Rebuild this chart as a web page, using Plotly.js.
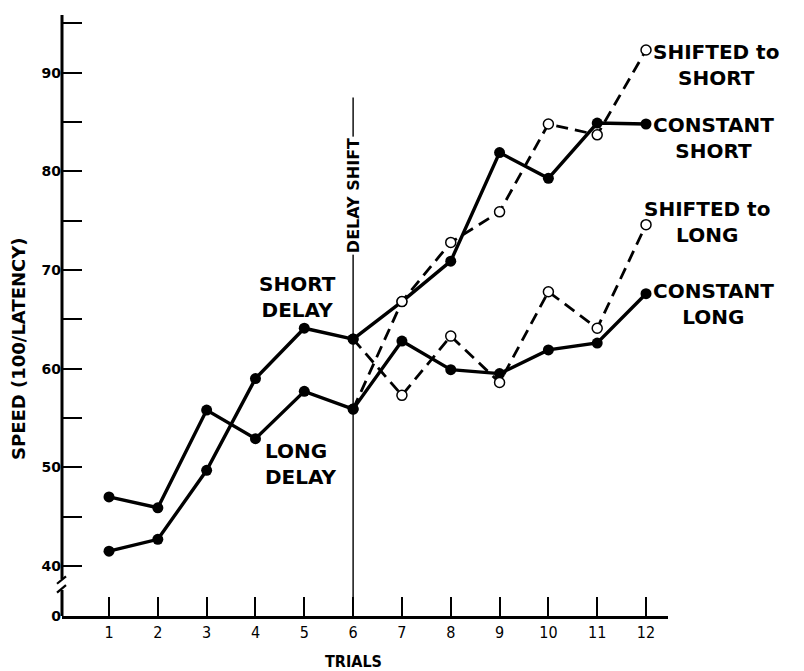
<!DOCTYPE html>
<html>
<head>
<meta charset="utf-8">
<script src="https://cdn.plot.ly/plotly-3.0.1.min.js"></script>
<style>
html,body{margin:0;padding:0;background:#fff;}
#chart{width:804px;height:671px;}
</style>
</head>
<body>
<div id="chart"></div>
<script>
// ---- data ----
const trials = [1,2,3,4,5,6,7,8,9,10,11,12];
const preTrials = [1,2,3,4,5,6];
const postTrials = [7,8,9,10,11,12];
const shiftTrial = 6;

const shortDelay = [41.5, 42.7, 49.7, 59.0, 64.1, 63.0];
const longDelay  = [47.0, 45.9, 55.8, 52.9, 57.7, 55.9];

const constantShort  = [66.8, 70.9, 81.9, 79.3, 84.9, 84.8];
const shiftedToShort = [66.8, 72.8, 75.9, 84.8, 83.7, 92.3];
const constantLong   = [62.8, 59.9, 59.5, 61.9, 62.6, 67.6];
const shiftedToLong  = [57.3, 63.3, 58.6, 67.8, 64.1, 74.6];

const yMajorTicks = [40,50,60,70,80,90];
const yMinorTicks = [45,55,65,75,85,95];
const xTickLabels = ['1','2','3','4','5','6','7','8','9','10','11','12'];

// ---- axis geometry ----
const Y_ZERO_POS = 34.93;   // where the broken axis shows "0"
const yRange = [Y_ZERO_POS, 95.85];
const xRange = [0.037, 12.45];

const lastShort = shortDelay[shortDelay.length-1];
const lastLong  = longDelay[longDelay.length-1];
const postX = [shiftTrial].concat(postTrials);

const solidLine = {color:'#000', width:3.4};
const dashLine = {color:'#000', width:2.8, dash:'12px,7px'};
const filled = {color:'#000', size:11};
function openMarker(n){
  const s = [0]; for(let i=0;i<n;i++) s.push(10);
  return {color:'#ffffff', opacity:1, size:s, line:{color:'#000', width:1.5}};
}

const traces = [
  {x:preTrials, y:longDelay, mode:'lines+markers', line:solidLine, marker:filled, name:'Long delay'},
  {x:preTrials, y:shortDelay, mode:'lines+markers', line:solidLine, marker:filled, name:'Short delay'},
  {x:postX, y:[lastShort].concat(constantShort), mode:'lines+markers', line:solidLine, marker:filled, name:'Constant short'},
  {x:postX, y:[lastLong].concat(constantLong), mode:'lines+markers', line:solidLine, marker:filled, name:'Constant long'},
  {x:postX, y:[lastLong].concat(shiftedToShort), mode:'lines+markers', line:dashLine, marker:openMarker(postTrials.length), name:'Shifted to short'},
  {x:postX, y:[lastShort].concat(shiftedToLong), mode:'lines+markers', line:dashLine, marker:openMarker(postTrials.length), name:'Shifted to long'}
];

const yTickVals = [Y_ZERO_POS].concat(yMajorTicks, yMinorTicks);
const yTickText = ['0'].concat(yMajorTicks.map(String), yMinorTicks.map(()=>''));

const labelFont = {family:'DejaVu Sans', size:20, color:'#000', weight:'bold'};
function lab(text, x, y, extra){
  return Object.assign({text:text, x:x, y:y, xref:'paper', yref:'paper', showarrow:false,
    xanchor:'center', yanchor:'middle', align:'center', font:labelFont}, extra||{});
}

const annotations = [
  lab('SHORT<br>DELAY', 0.3878, 0.5301),
  lab('LONG<br>DELAY', 0.3317, 0.2536, {xanchor:'left', align:'left'}),
  lab('SHIFTED to<br>SHORT', 1.0792, 0.9175),
  lab('CONSTANT<br>SHORT', 1.0759, 0.7953),
  lab('SHIFTED to<br>LONG', 1.0644, 0.6556),
  lab('CONSTANT<br>LONG', 1.0743, 0.5191),
  {text:'DELAY SHIFT', x:shiftTrial, y:77.5, xref:'x', yref:'y', showarrow:false,
   textangle:-90, bgcolor:'#fff', borderpad:1,
   font:{family:'DejaVu Sans', size:16, color:'#000', weight:'bold'}},
  // axis titles
  {text:'SPEED (100/LATENCY)', x:-0.071, y:0.4443, xref:'paper', yref:'paper', showarrow:false,
   textangle:-90, xanchor:'center', yanchor:'middle',
   font:{family:'DejaVu Sans', size:18, color:'#000', weight:'bold'}},
  {text:'TRIALS', x:0.4802, y:-0.0765, xref:'paper', yref:'paper', showarrow:false,
   xanchor:'center', yanchor:'middle',
   font:{family:'DejaVu Sans Condensed', size:16, color:'#000', weight:'bold'}}
];

const axisX = 0;
const shapes = [
  {type:'line', xref:'x', yref:'y', x0:shiftTrial, x1:shiftTrial, y0:Y_ZERO_POS, y1:87.5,
   line:{color:'#000', width:1.4}, layer:'below'},
  {type:'line', xref:'paper', yref:'y', x0:axisX, x1:axisX, y0:38.68, y1:yRange[1],
   line:{color:'#000', width:3}},
  {type:'line', xref:'paper', yref:'y', x0:axisX, x1:axisX, y0:Y_ZERO_POS, y1:37.57,
   line:{color:'#000', width:3}},
  {type:'line', xref:'paper', yref:'y', xsizemode:'pixel', xanchor:axisX, x0:-5, x1:4,
   y0:38.2, y1:38.95, line:{color:'#000', width:2.2}},
  {type:'line', xref:'paper', yref:'y', xsizemode:'pixel', xanchor:axisX, x0:-5, x1:4,
   y0:37.3, y1:38.05, line:{color:'#000', width:2.2}}
];

const layout = {
  width:804, height:671,
  margin:{l:62, r:136, t:15, b:55},
  paper_bgcolor:'#fff', plot_bgcolor:'#fff',
  showlegend:false,
  font:{family:'DejaVu Sans', color:'#000'},
  xaxis:{
    range:xRange, tickvals:trials, ticktext:xTickLabels,
    showgrid:false, zeroline:false, showline:true, linecolor:'#000', linewidth:3,
    ticks:'inside', ticklen:19, tickwidth:2, tickcolor:'#000',
    tickfont:{family:'DejaVu Sans Condensed', size:16, color:'#000'}
  },
  yaxis:{
    range:yRange, tickvals:yTickVals, ticktext:yTickText,
    showgrid:false, zeroline:false, showline:false,
    ticks:'inside', ticklen:20, tickwidth:2, tickcolor:'#000',
    tickfont:{family:'DejaVu Sans', size:14, color:'#000', weight:'bold'}
  },
  shapes:shapes,
  annotations:annotations
};

Plotly.newPlot('chart', traces, layout, {displayModeBar:false, staticPlot:true});
</script>
</body>
</html>
